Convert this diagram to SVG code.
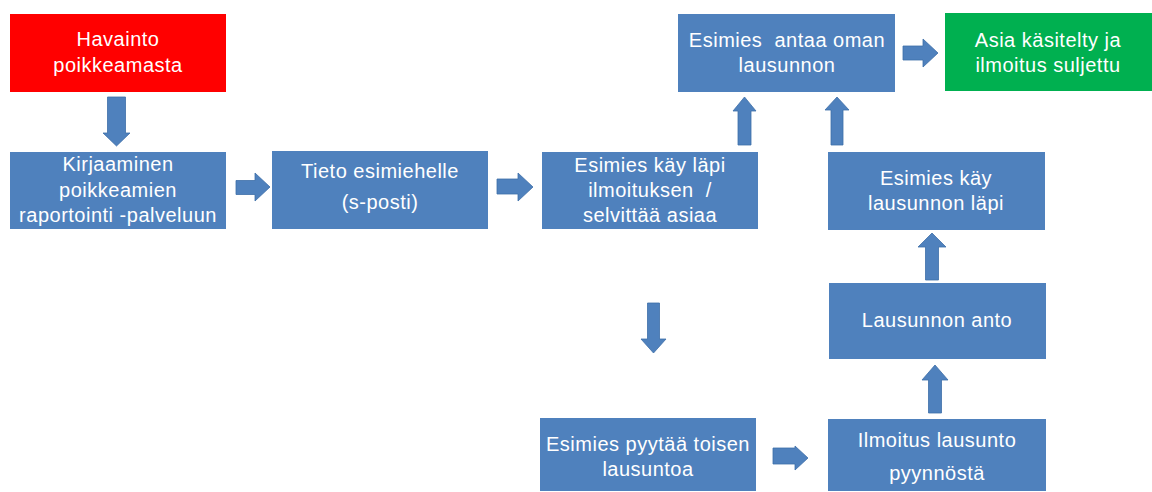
<svg xmlns="http://www.w3.org/2000/svg" width="1152" height="492" viewBox="0 0 1152 492">
<style>
.box{fill:#4F81BD}
.red{fill:#FF0000}
.green{fill:#00B050}
.arr{fill:#4F81BD;stroke:#3E6FA8;stroke-width:0.8}
text{font-family:"Liberation Sans",Arial,sans-serif;font-size:20px;letter-spacing:0.5px;fill:#FFFFFF;text-anchor:middle}
</style>
<rect width="1152" height="492" fill="#FFFFFF"/>
<g id="connectors">
<polygon class="arr" points="107.5,97 125.5,97 125.5,133 130,133 116.5,146 103,133 107.5,133"/>
<polygon class="arr" points="236,180.5 255,180.5 255,173 270,187 255,201 255,194.5 236,194.5"/>
<polygon class="arr" points="497,179 518,179 518,173 533,187 518,201 518,194 497,194"/>
<polygon class="arr" points="738,145 751,145 751,111 756,111 744.5,97 733,111 738,111"/>
<polygon class="arr" points="903,46 923,46 923,39 938,53 923,67 923,60 903,60"/>
<polygon class="arr" points="831,145 843,145 843,110 849,110 837,97 825,110 831,110"/>
<polygon class="arr" points="925.5,280 938.5,280 938.5,247 946,247 932,233 918,247 925.5,247"/>
<polygon class="arr" points="928.5,413 941.5,413 941.5,380 948,380 935,365 922,380 928.5,380"/>
<polygon class="arr" points="647.5,303 659.5,303 659.5,339 666,339 653.5,353 641,339 647.5,339"/>
<polygon class="arr" points="773,448 795,448 795,446 808,458 795,470 795,464 773,464"/>
</g>
<g id="n-havainto">
<rect class="red" x="10" y="14" width="216" height="78"/>
<text x="118" y="46">Havainto</text>
<text x="118" y="72">poikkeamasta</text>
</g>
<g id="n-kirjaaminen">
<rect class="box" x="10" y="152" width="216" height="77"/>
<text x="118" y="171">Kirjaaminen</text>
<text x="118" y="197">poikkeamien</text>
<text x="118" y="222">raportointi -palveluun</text>
</g>
<g id="n-tieto">
<rect class="box" x="272" y="151" width="216" height="78"/>
<text x="380" y="178">Tieto esimiehelle</text>
<text x="380" y="209">(s-posti)</text>
</g>
<g id="n-kaylapi">
<rect class="box" x="542" y="152" width="216" height="77"/>
<text x="650" y="172">Esimies käy läpi</text>
<text x="650" y="197" xml:space="preserve">ilmoituksen  /</text>
<text x="650" y="222">selvittää asiaa</text>
</g>
<g id="n-antaa">
<rect class="box" x="678" y="14" width="217" height="78"/>
<text x="787" y="47" xml:space="preserve">Esimies  antaa oman</text>
<text x="787" y="72">lausunnon</text>
</g>
<g id="n-asia">
<rect class="green" x="945" y="13" width="207" height="78"/>
<text x="1048" y="47">Asia käsitelty ja</text>
<text x="1048" y="72">ilmoitus suljettu</text>
</g>
<g id="n-kaylausunnon">
<rect class="box" x="828" y="152" width="217" height="78"/>
<text x="936" y="185">Esimies käy</text>
<text x="936" y="210">lausunnon läpi</text>
</g>
<g id="n-anto">
<rect class="box" x="829" y="283" width="217" height="76"/>
<text x="937" y="327">Lausunnon anto</text>
</g>
<g id="n-ilmoitus">
<rect class="box" x="828" y="419" width="218" height="72"/>
<text x="937" y="447">Ilmoitus lausunto</text>
<text x="937" y="480">pyynnöstä</text>
</g>
<g id="n-pyytaa">
<rect class="box" x="540" y="418" width="216" height="73"/>
<text x="648" y="451">Esimies pyytää toisen</text>
<text x="648" y="476">lausuntoa</text>
</g>
</svg>
